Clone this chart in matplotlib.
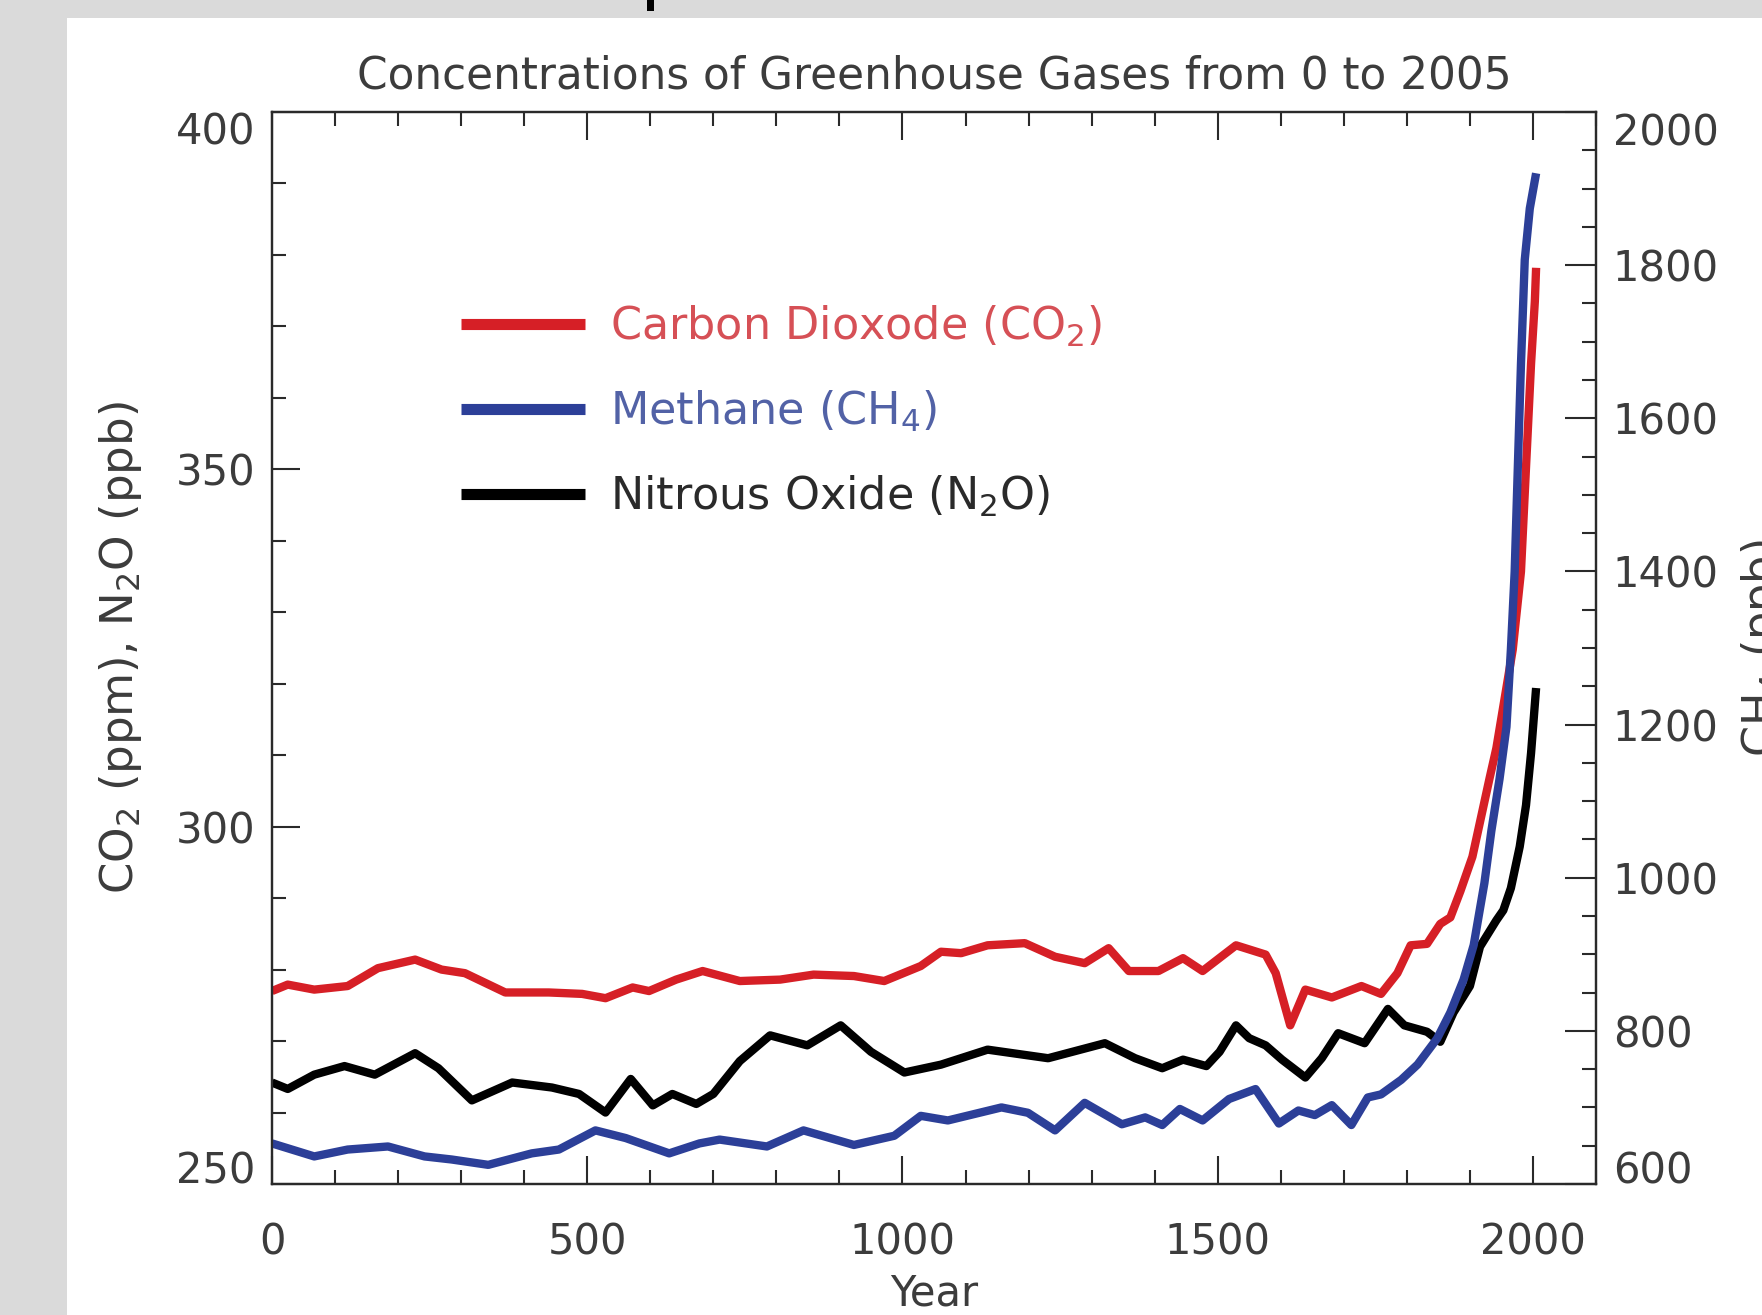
import matplotlib
matplotlib.use("Agg")
import matplotlib.pyplot as plt
from matplotlib.lines import Line2D
from matplotlib.patches import Rectangle
from matplotlib.ticker import MultipleLocator

# values
co2_years = [0, 25, 67, 120, 168, 227, 269, 306, 370, 439, 492, 529, 572, 598, 641, 683,
             742, 806, 859, 923, 971, 1029, 1061, 1093, 1135, 1194, 1242, 1289, 1327, 1359,
             1406, 1445, 1476, 1529, 1576, 1592, 1615, 1639, 1681, 1728, 1759, 1785, 1806,
             1832, 1853, 1869, 1885, 1904, 1931, 1942, 1968, 1981, 1989, 1997, 2003, 2005]
co2_ppm = [277.0, 277.9, 277.2, 277.7, 280.2, 281.4, 280.0, 279.5, 276.8, 276.8, 276.6, 276.0,
           277.5, 277.0, 278.6, 279.8, 278.4, 278.6, 279.3, 279.1, 278.4, 280.5, 282.5, 282.3,
           283.4, 283.7, 281.8, 280.9, 283.0, 279.8, 279.8, 281.6, 279.8, 283.4, 282.1, 279.5,
           272.2, 277.2, 276.1, 277.7, 276.6, 279.5, 283.4, 283.6, 286.4, 287.3, 291.0, 295.8,
           306.7, 311.0, 324.8, 335.7, 350.3, 364.8, 373.5, 378.2]

ch4_years = [0, 67, 120, 184, 242, 285, 343, 412, 455, 513, 561, 630, 678, 710, 785, 843, 923,
             987, 1029, 1072, 1157, 1199, 1242, 1289, 1348, 1385, 1412, 1440, 1476, 1518, 1560,
             1597, 1628, 1654, 1681, 1712, 1738, 1759, 1791, 1817, 1848, 1869, 1890, 1906, 1915,
             1923, 1934, 1947, 1958, 1965, 1971, 1976, 1981, 1987, 1995, 2005]
ch4_ppb = [653, 636, 645, 649, 636, 632, 625, 640, 645, 670, 660, 640, 653, 658, 649, 670, 651,
           663, 689, 683, 700, 693, 670, 706, 678, 687, 677, 698, 683, 711, 724, 679, 696, 690,
           703, 677, 713, 717, 736, 756, 790, 824, 867, 912, 955, 993, 1061, 1129, 1197, 1298,
           1400, 1536, 1671, 1807, 1874, 1920]

n2o_years = [0, 25, 67, 115, 163, 227, 264, 317, 381, 444, 487, 529, 569, 604, 635, 673, 700,
             742, 790, 849, 902, 950, 1003, 1061, 1135, 1231, 1321, 1369, 1412, 1445, 1482, 1503,
             1529, 1550, 1576, 1602, 1639, 1665, 1691, 1733, 1770, 1796, 1832, 1853, 1874, 1900,
             1916, 1942, 1953, 1965, 1979, 1989, 1997, 2005]
n2o_ppb = [264.2, 263.3, 265.3, 266.5, 265.3, 268.3, 266.2, 261.7, 264.2, 263.5, 262.6, 260.0,
           264.7, 261.0, 262.6, 261.2, 262.6, 267.2, 270.8, 269.4, 272.2, 268.5, 265.6, 266.7,
           268.8, 267.6, 269.7, 267.6, 266.2, 267.4, 266.5, 268.5, 272.2, 270.4, 269.4, 267.4,
           264.9, 267.6, 271.1, 269.7, 274.5, 272.2, 271.3, 269.9, 274.0, 277.7, 283.2, 286.9,
           288.3, 291.4, 297.2, 303.0, 310.3, 319.4]

labels = ["Carbon Dioxode (CO$_2$)", "Methane (CH$_4$)", "Nitrous Oxide (N$_2$O)"]
line_colors = ["#d61f26", "#2c3f98", "#000000"]
text_colors = ["#d65056", "#5262a6", "#2a2a2a"]

plt.rcParams["font.family"] = "DejaVu Sans"
plt.rcParams["mathtext.default"] = "regular"
txt = "#3c3c3c"
axc = "#2a2a2a"

W, H = 1762, 1315
fig = plt.figure(figsize=(W / 100, H / 100), dpi=100, facecolor="#dadada")
# white panel of the screenshot and the little black mark at the top
fig.patches.append(Rectangle((67 / W, 0), 1, (H - 18) / H, transform=fig.transFigure,
                             facecolor="white", edgecolor="none", zorder=-10))
fig.patches.append(Rectangle((647 / W, (H - 11) / H), 7 / W, 11 / H, transform=fig.transFigure,
                             facecolor="black", edgecolor="none", zorder=-5))

ax = fig.add_axes([272 / W, 131 / H, 1324 / W, 1072 / H])
ax.set_facecolor("none")
ax.plot(co2_years, co2_ppm, color=line_colors[0], lw=6, solid_capstyle="butt")
ax.plot(n2o_years, n2o_ppb, color=line_colors[2], lw=6, solid_capstyle="butt", zorder=4)

ax.set_xlim(0, 2100)
ax.set_ylim(250, 400)
ax.xaxis.set_major_locator(MultipleLocator(500))
ax.xaxis.set_minor_locator(MultipleLocator(100))
ax.set_yticks([250, 300, 350, 400])
ax.yaxis.set_minor_locator(MultipleLocator(10))
ax.tick_params(which="both", direction="in", color=axc, width=1.5, labelsize=30,
               labelcolor=txt, top=True, right=False)
ax.tick_params(which="major", length=20)
ax.tick_params(which="minor", length=10)
ax.tick_params(axis="x", pad=27)
ax.tick_params(axis="y", pad=12)
for s in ax.spines.values():
    s.set_color(axc)
    s.set_linewidth(1.6)

ylabs = ax.get_yticklabels()
ylabs[0].set_va("baseline")
ylabs[-1].set_va("top")

ax2 = ax.twinx()
ax2.plot(ch4_years, ch4_ppb, color=line_colors[1], lw=6, solid_capstyle="butt")
ax2.set_ylim(600, 2000)
ax2.set_yticks(range(600, 2001, 200))
ax2.yaxis.set_minor_locator(MultipleLocator(50))
ax2.tick_params(which="both", direction="in", color=axc, width=1.5, labelsize=30,
                labelcolor=txt, pad=12)
ax2.tick_params(which="major", length=22)
ax2.tick_params(which="minor", length=10)
rlabs = ax2.get_yticklabels()
rlabs[0].set_va("baseline")
rlabs[-1].set_va("top")
for s in ax2.spines.values():
    s.set_color(axc)
    s.set_linewidth(1.6)

ax.set_title("Concentrations of Greenhouse Gases from 0 to 2005", fontsize=31.5,
             color=txt, pad=17)
ax.set_xlabel("Year", fontsize=30, color=txt)
ax.xaxis.set_label_coords(0.5, -0.083)
ax.set_ylabel("CO$_2$ (ppm), N$_2$O (ppb)", fontsize=32.5, color=txt)
ax.yaxis.set_label_coords(-0.097, 0.5)
ax2.set_ylabel("CH$_4$ (ppb)", fontsize=32, color=txt)
ax2.yaxis.set_label_coords(1.108, 0.5)

handles = [Line2D([], [], color=c, lw=8, solid_capstyle="butt") for c in line_colors]
ax.legend(handles, labels, loc="upper left", bbox_to_anchor=(0.1427, 0.8215),
          frameon=False, fontsize=32, handlelength=2.8, handletextpad=0.55,
          labelspacing=0.9, borderpad=0, borderaxespad=0, labelcolor=text_colors)

fig.savefig("out.png", dpi=100, facecolor=fig.get_facecolor())
